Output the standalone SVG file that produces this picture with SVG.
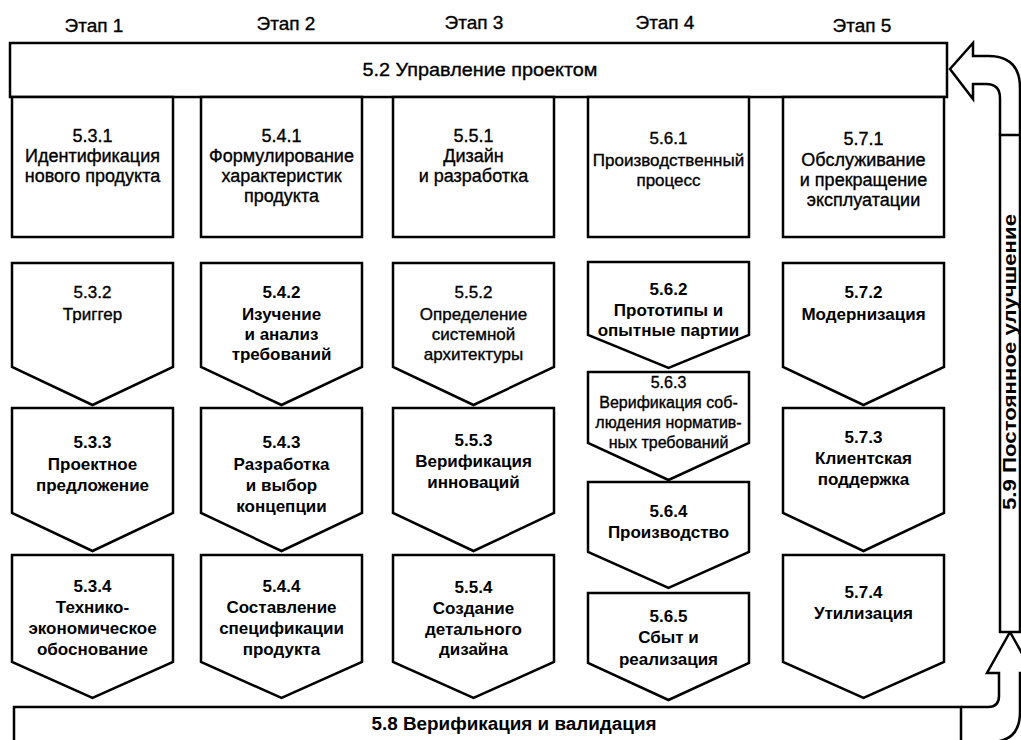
<svg xmlns="http://www.w3.org/2000/svg" width="1021" height="740" viewBox="0 0 1021 740">
<style>
.bx{fill:#fff;stroke:#000;stroke-width:2.5;stroke-linejoin:miter}
.t{font-family:"Liberation Sans",Arial,sans-serif;font-size:17px;text-anchor:middle;fill:#000}
.r{stroke:#000;stroke-width:0.35}
.b{font-weight:bold}
.h{font-size:19px}
.m{font-size:18px}
.s{font-size:16px}
</style>
<rect width="1021" height="740" fill="#fff"/>
<g id="headers">
<text class="t h r" x="94" y="32">Этап 1</text>
<text class="t h r" x="286" y="30">Этап 2</text>
<text class="t h r" x="474" y="29">Этап 3</text>
<text class="t h r" x="665" y="29">Этап 4</text>
<text class="t h r" x="862" y="32">Этап 5</text>
</g>
<g id="connectors">
<path class="bx" d="M1000,135 V98 Q1000,84 986,84 H973 V99 L950,69 L973,43 V56 H988 Q1020,56 1020,88 V135"/>
<path class="bx" d="M961,707 H988 Q999,707 999,696 V673 H987 L1010,632 L1033,673 H1020 V712 Q1020,742 990,742 H961"/>
</g>
<g id="n52"><rect class="bx" x="10" y="43" width="937" height="54"/><text class="t h r" x="480" y="76" textLength="235" lengthAdjust="spacingAndGlyphs">5.2 Управление проектом</text></g>
<g id="n58"><rect class="bx" x="14" y="707" width="947" height="50"/><text class="t m b" x="514" y="730" textLength="285" lengthAdjust="spacingAndGlyphs">5.8 Верификация и валидация</text></g>
<g id="n59"><rect class="bx" x="1000" y="135" width="20" height="497"/><text class="t m b" transform="translate(1016,362) rotate(-90)" textLength="296" lengthAdjust="spacingAndGlyphs">5.9 Постоянное улучшение</text></g>

<g id="n531"><rect class="bx" x="12" y="97" width="161" height="140"/><text class="t m r"><tspan x="92.5" y="142">5.3.1</tspan><tspan x="92.5" y="162">Идентификация</tspan><tspan x="92.5" y="182">нового продукта</tspan></text></g>
<g id="n541"><rect class="bx" x="201" y="97" width="161" height="140"/><text class="t m r"><tspan x="281.5" y="142">5.4.1</tspan><tspan x="281.5" y="162">Формулирование</tspan><tspan x="281.5" y="182">характеристик</tspan><tspan x="281.5" y="202">продукта</tspan></text></g>
<g id="n551"><rect class="bx" x="393" y="97" width="161" height="140"/><text class="t m r"><tspan x="473.5" y="142">5.5.1</tspan><tspan x="473.5" y="162">Дизайн</tspan><tspan x="473.5" y="182">и разработка</tspan></text></g>
<g id="n561"><rect class="bx" x="588" y="97" width="161" height="140"/><text class="t r"><tspan x="668.5" y="144">5.6.1</tspan><tspan x="668.5" y="166">Производственный</tspan><tspan x="668.5" y="186">процесс</tspan></text></g>
<g id="n571"><rect class="bx" x="783" y="97" width="161" height="140"/><text class="t m r"><tspan x="863.5" y="145">5.7.1</tspan><tspan x="863.5" y="166">Обслуживание</tspan><tspan x="863.5" y="186">и прекращение</tspan><tspan x="863.5" y="206">эксплуатации</tspan></text></g>

<g id="n532"><path class="bx" d="M12,263 H173 V367 L92.5,405 L12,367 Z"/><text class="t r"><tspan x="92.5" y="298">5.3.2</tspan><tspan x="92.5" y="320">Триггер</tspan></text></g>
<g id="n542"><path class="bx" d="M201,263 H362 V367 L281.5,405 L201,367 Z"/><text class="t b"><tspan x="281.5" y="298">5.4.2</tspan><tspan x="281.5" y="320">Изучение</tspan><tspan x="281.5" y="340">и анализ</tspan><tspan x="281.5" y="360">требований</tspan></text></g>
<g id="n552"><path class="bx" d="M393,263 H554 V367 L473.5,405 L393,367 Z"/><text class="t r"><tspan x="473.5" y="298">5.5.2</tspan><tspan x="473.5" y="320">Определение</tspan><tspan x="473.5" y="340">системной</tspan><tspan x="473.5" y="360">архитектуры</tspan></text></g>
<g id="n572"><path class="bx" d="M783,263 H944 V367 L863.5,405 L783,367 Z"/><text class="t b"><tspan x="863.5" y="298">5.7.2</tspan><tspan x="863.5" y="320">Модернизация</tspan></text></g>

<g id="n533"><path class="bx" d="M12,408 H173 V513 L92.5,551 L12,513 Z"/><text class="t b"><tspan x="92.5" y="448">5.3.3</tspan><tspan x="92.5" y="470">Проектное</tspan><tspan x="92.5" y="491">предложение</tspan></text></g>
<g id="n543"><path class="bx" d="M201,408 H362 V513 L281.5,551 L201,513 Z"/><text class="t b"><tspan x="281.5" y="448">5.4.3</tspan><tspan x="281.5" y="470">Разработка</tspan><tspan x="281.5" y="491">и выбор</tspan><tspan x="281.5" y="512">концепции</tspan></text></g>
<g id="n553"><path class="bx" d="M393,408 H554 V513 L473.5,551 L393,513 Z"/><text class="t b"><tspan x="473.5" y="446">5.5.3</tspan><tspan x="473.5" y="467">Верификация</tspan><tspan x="473.5" y="488">инноваций</tspan></text></g>
<g id="n573"><path class="bx" d="M783,408 H944 V513 L863.5,551 L783,513 Z"/><text class="t b"><tspan x="863.5" y="443">5.7.3</tspan><tspan x="863.5" y="464">Клиентская</tspan><tspan x="863.5" y="485">поддержка</tspan></text></g>

<g id="n534"><path class="bx" d="M12,555 H173 V662 L92.5,698 L12,662 Z"/><text class="t b"><tspan x="92.5" y="592">5.3.4</tspan><tspan x="92.5" y="613">Технико-</tspan><tspan x="92.5" y="634">экономическое</tspan><tspan x="92.5" y="655">обоснование</tspan></text></g>
<g id="n544"><path class="bx" d="M201,555 H362 V662 L281.5,698 L201,662 Z"/><text class="t b"><tspan x="281.5" y="592">5.4.4</tspan><tspan x="281.5" y="613">Составление</tspan><tspan x="281.5" y="634">спецификации</tspan><tspan x="281.5" y="655">продукта</tspan></text></g>
<g id="n554"><path class="bx" d="M393,555 H554 V662 L473.5,698 L393,662 Z"/><text class="t b"><tspan x="473.5" y="593">5.5.4</tspan><tspan x="473.5" y="614">Создание</tspan><tspan x="473.5" y="635">детального</tspan><tspan x="473.5" y="655">дизайна</tspan></text></g>
<g id="n574"><path class="bx" d="M783,555 H944 V662 L863.5,698 L783,662 Z"/><text class="t b"><tspan x="863.5" y="598">5.7.4</tspan><tspan x="863.5" y="619">Утилизация</tspan></text></g>

<g id="n562"><path class="bx" d="M588,262 H749 V335 L668.5,368 L588,335 Z"/><text class="t b"><tspan x="668.5" y="295">5.6.2</tspan><tspan x="668.5" y="316">Прототипы и</tspan><tspan x="668.5" y="336">опытные партии</tspan></text></g>
<g id="n563"><path class="bx" d="M588,372 H749 V443 L668.5,480 L588,443 Z"/><text class="t s r"><tspan x="668.5" y="388">5.6.3</tspan><tspan x="668.5" y="408">Верификация соб-</tspan><tspan x="668.5" y="428">людения норматив-</tspan><tspan x="668.5" y="448">ных требований</tspan></text></g>
<g id="n564"><path class="bx" d="M588,482 H749 V552 L668.5,588 L588,552 Z"/><text class="t b"><tspan x="668.5" y="517">5.6.4</tspan><tspan x="668.5" y="538">Производство</tspan></text></g>
<g id="n565"><path class="bx" d="M588,593 H749 V663 L668.5,700 L588,663 Z"/><text class="t b"><tspan x="668.5" y="622">5.6.5</tspan><tspan x="668.5" y="643">Сбыт и</tspan><tspan x="668.5" y="665">реализация</tspan></text></g>
</svg>
